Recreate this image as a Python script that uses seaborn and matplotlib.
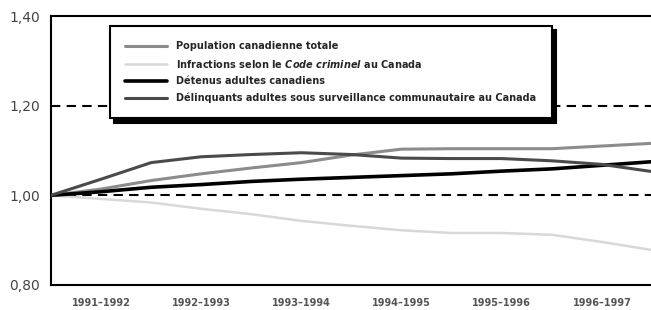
import matplotlib
matplotlib.use("Agg")
from matplotlib import pyplot as plt
import seaborn as sns

# positions along the axis (tick n = fiscal year n)
periodes = [0.5, 1.0, 1.5, 2.0, 2.5, 3.0, 3.5, 4.0, 4.5, 5.0, 5.5, 6.0, 6.5]
annees = ["1991–1992", "1992–1993", "1993–1994", "1994–1995", "1995–1996", "1996–1997"]

population = [1.000, 1.014, 1.033, 1.048, 1.061, 1.073, 1.090, 1.103, 1.104, 1.104, 1.104, 1.110, 1.116]
infractions = [1.000, 0.992, 0.984, 0.970, 0.958, 0.943, 0.932, 0.922, 0.916, 0.916, 0.912, 0.896, 0.878]
detenus = [1.000, 1.008, 1.018, 1.024, 1.031, 1.036, 1.040, 1.044, 1.048, 1.054, 1.059, 1.067, 1.075]
delinquants = [1.000, 1.036, 1.073, 1.086, 1.091, 1.095, 1.091, 1.083, 1.082, 1.082, 1.077, 1.069, 1.053]

series = [
    ("Population canadienne totale", population, "#8c8c8c", 2.2),
    (r"Infractions selon le $\mathit{Code\ criminel}$ au Canada", infractions, "#d8d8d8", 1.8),
    ("Détenus adultes canadiens", detenus, "black", 2.6),
    ("Délinquants adultes sous surveillance communautaire au Canada", delinquants, "#4a4a4a", 2.2),
]

sns.set_style("white")
plt.rcParams['font.family'] = ['DejaVu Sans']
plt.rcParams['mathtext.fontset'] = 'custom'
plt.rcParams['mathtext.it'] = 'DejaVu Sans:italic:bold'
plt.rcParams['mathtext.rm'] = 'DejaVu Sans:bold'

fig = plt.figure(figsize=(6.51, 3.10), dpi=100)
ax = fig.add_axes([51 / 651, 25 / 310, 601 / 651, 269 / 310])

# reference lines
for y in (1.0, 1.2):
    ax.axhline(y, color="black", lw=1.5, ls=(0, (4.5, 3)), zorder=1)

for label, values, color, lw in series:
    sns.lineplot(x=periodes, y=values, color=color, lw=lw, label=label, ax=ax, zorder=3)

ax.set_xlim(0.5, 6.5)
ax.set_ylim(0.8, 1.4)
ax.set_xticks(range(1, 7), annees)
ax.set_yticks([0.8, 1.0, 1.2, 1.4], ["0,80", "1,00", "1,20", "1,40"])
ax.set_xlabel("")
ax.set_ylabel("")

ax.tick_params(axis="x", direction="in", length=5, width=1.3, color="black",
               pad=9, labelsize=7, labelcolor="#555555")
ax.tick_params(axis="y", length=0, pad=8, labelsize=10, labelcolor="#444444")
for t in ax.get_xticklabels():
    t.set_fontweight("bold")

ax.spines["right"].set_visible(False)
for s in ("top", "left", "bottom"):
    ax.spines[s].set_color("black")
    ax.spines[s].set_linewidth(1.5)

leg = ax.legend(loc="upper left", bbox_to_anchor=(0.098, 0.963), borderaxespad=0,
                prop={"weight": "bold", "size": 7},
                handlelength=4.3, handletextpad=1.0, borderpad=1.55, labelspacing=0.68,
                fancybox=False, framealpha=1, edgecolor="black",
                shadow={"color": "black", "alpha": 1, "ox": 3, "oy": -3})
leg.get_frame().set_linewidth(1.5)
leg.set_zorder(5)

fig.savefig("out.png", dpi=100)
